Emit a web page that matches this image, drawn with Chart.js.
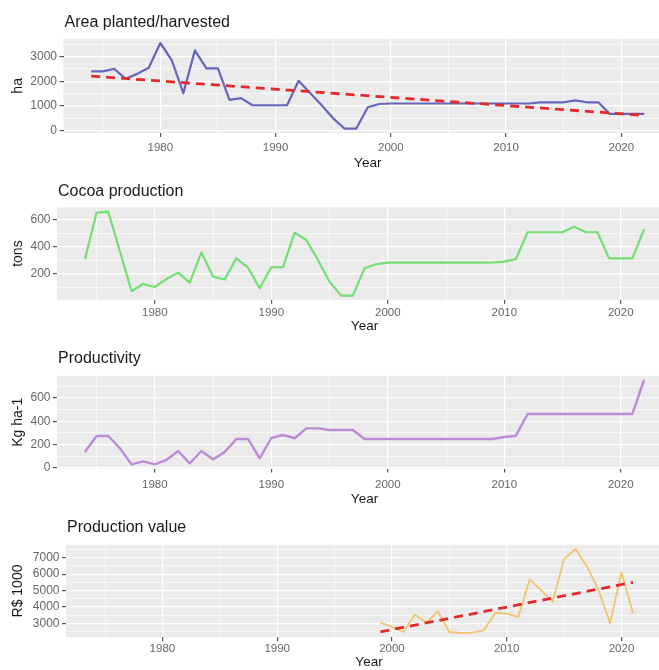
<!DOCTYPE html>
<html>
<head>
<meta charset="utf-8">
<title>Cocoa: area, production, productivity and production value</title>
<script src="https://cdn.jsdelivr.net/npm/chart.js@4.4.1/dist/chart.umd.min.js"></script>
<style>
  html, body { margin: 0; padding: 0; background: #ffffff; }
  #fig { position: relative; width: 659px; height: 670px; overflow: hidden; background: #ffffff; }
  #fig canvas { position: absolute; left: 0; }
</style>
</head>
<body>
<div id="fig">
  <canvas id="area"></canvas>
  <canvas id="production"></canvas>
  <canvas id="productivity"></canvas>
  <canvas id="value"></canvas>
</div>
<script>
// ---- data ---------------------------------------------------------------
const years = [1974, 1975, 1976, 1977, 1978, 1979, 1980, 1981, 1982, 1983,
               1984, 1985, 1986, 1987, 1988, 1989, 1990, 1991, 1992, 1993,
               1994, 1995, 1996, 1997, 1998, 1999, 2000, 2001, 2002, 2003,
               2004, 2005, 2006, 2007, 2008, 2009, 2010, 2011, 2012, 2013,
               2014, 2015, 2016, 2017, 2018, 2019, 2020, 2021, 2022];

// area planted/harvested (ha)
const areaHa = [2400, 2400, 2500, 2100, 2300, 2550, 3550, 2850, 1520, 3250,
                2520, 2520, 1250, 1320, 1030, 1030, 1030, 1030, 2020, 1530,
                1030, 500, 80, 80, 950, 1080, 1100, 1100, 1100, 1100,
                1100, 1100, 1100, 1100, 1100, 1100, 1100, 1100, 1100, 1150,
                1150, 1150, 1230, 1150, 1150, 680, 680, 680, 680];
const areaTrendYears = [1974, 2022];
const areaTrendHa = [2210, 620];

// cocoa production (tons)
const cocoaTons = [310, 654, 662, 368, 74, 126, 104, 163, 210, 136,
                   360, 180, 160, 316, 247, 94, 250, 250, 506, 452,
                   304, 143, 40, 40, 242, 272, 284, 284, 284, 284,
                   284, 284, 284, 284, 284, 285, 292, 311, 509, 509,
                   509, 509, 550, 509, 509, 316, 316, 316, 531];

// productivity (kg per ha)
const productivityKgHa = [137, 274, 274, 169, 31, 57, 31, 69, 146, 40,
                          146, 74, 137, 249, 249, 83, 257, 283, 255, 340,
                          340, 326, 326, 326, 249, 249, 249, 249, 249, 249,
                          249, 249, 249, 249, 249, 249, 266, 277, 463, 463,
                          463, 463, 463, 463, 463, 463, 463, 463, 754];

// production value (R$ 1000)
const valueYears = [1999, 2000, 2001, 2002, 2003, 2004, 2005, 2006, 2007, 2008,
                    2009, 2010, 2011, 2012, 2013, 2014, 2015, 2016, 2017, 2018,
                    2019, 2020, 2021];
const productionValue = [3050, 2780, 2470, 3530, 3040, 3730, 2470, 2410, 2430, 2570,
                         3650, 3590, 3390, 5670, 5020, 4300, 6920, 7530, 6450, 5020,
                         3020, 6100, 3630];
const valueTrendYears = [1999, 2021];
const valueTrend = [2480, 5500];

// ---- axis ticks -----------------------------------------------------------
const yearTicks = [1980, 1990, 2000, 2010, 2020];
const yearMinor = [1975, 1985, 1995, 2005, 2015];
const areaTicks = [0, 1000, 2000, 3000];
const areaMinor = [500, 1500, 2500, 3500];
const cocoaTicks = [200, 400, 600];
const cocoaMinor = [100, 300, 500];
const productivityTicks = [0, 200, 400, 600];
const productivityMinor = [100, 300, 500, 700];
const valueTicks = [3000, 4000, 5000, 6000, 7000];
const valueMinor = [2500, 3500, 4500, 5500, 6500, 7500];

// ---- styling ------------------------------------------------------------
const FONT = '"Liberation Sans", Arimo, Arial, sans-serif';
const PANEL_BG = '#EBEBEB';
const TICK_TEXT = '#666666';
const TICK_MARK = '#555555';
const CANVAS_W = 680;
const PLOT_RIGHT = 672;
const X_MIN = 1971.6, X_MAX = 2024.4;

const pts = (xs, ys) => xs.map((x, i) => ({ x: x, y: ys[i] }));

// grey panel behind the grid
const panelBackground = {
  id: 'panelBackground',
  beforeDraw(chart) {
    const { ctx, chartArea: a } = chart;
    ctx.save();
    ctx.fillStyle = PANEL_BG;
    ctx.fillRect(a.left, a.top, a.right - a.left, a.bottom - a.top);
    ctx.restore();
  }
};

// panel title, left-aligned with the plotting area
const panelTitle = {
  id: 'panelTitle',
  afterDraw(chart, args, opts) {
    const { ctx, chartArea: a } = chart;
    ctx.save();
    ctx.font = '16px ' + FONT;
    ctx.fillStyle = '#1a1a1a';
    ctx.textBaseline = 'middle';
    ctx.textAlign = 'left';
    ctx.fillText(opts.text, a.left + 1, a.top - opts.gap);
    ctx.restore();
  }
};

function gridScale(major, minor, extra) {
  const all = major.concat(minor).sort((a, b) => a - b);
  return Object.assign({
    type: 'linear',
    afterBuildTicks(scale) { scale.ticks = all.map(v => ({ value: v })); },
    ticks: {
      autoSkip: false,
      maxRotation: 0,
      color: TICK_TEXT,
      callback: v => (major.includes(v) ? String(v) : '')
    },
    grid: {
      color: '#FFFFFF',
      lineWidth: c => (c.tick && major.includes(c.tick.value) ? 1.2 : 0.6),
      tickColor: c => (c.tick && major.includes(c.tick.value) ? TICK_MARK : 'rgba(0,0,0,0)'),
      tickLength: 4,
      drawTicks: true
    },
    border: { display: false }
  }, extra);
}

function makePanel(p) {
  const canvas = document.getElementById(p.id);
  canvas.width = CANVAS_W;
  canvas.height = p.height;
  canvas.style.top = p.top + 'px';
  canvas.style.width = CANVAS_W + 'px';
  canvas.style.height = p.height + 'px';

  const xAxisHeight = p.top + p.height - p.plotBottom;

  const xScale = gridScale(yearTicks, yearMinor, {
    min: X_MIN, max: X_MAX,
    afterFit(scale) { scale.height = xAxisHeight; },
    title: { display: true, text: 'Year', color: '#1a1a1a',
             font: { family: FONT, size: 13.5 }, padding: 0 }
  });
  xScale.ticks.font = { family: FONT, size: 11.5 };
  xScale.ticks.padding = p.xLabelPad;

  const yScale = gridScale(p.yMajor, p.yMinor, {
    min: p.yMin, max: p.yMax,
    afterFit(scale) { scale.width = p.plotLeft; },
    title: { display: true, text: p.yTitle, color: '#1a1a1a',
             font: { family: FONT, size: 14 }, padding: { top: 10, bottom: 0 } }
  });
  yScale.ticks.font = { family: FONT, size: 12 };
  yScale.ticks.padding = 2.5;

  return new Chart(canvas, {
    type: 'line',
    data: { datasets: p.datasets },
    options: {
      responsive: false,
      devicePixelRatio: 1,
      animation: false,
      events: [],
      layout: { padding: { top: p.plotTop - p.top, right: CANVAS_W - PLOT_RIGHT, left: 0, bottom: 0 } },
      scales: { x: xScale, y: yScale },
      elements: { point: { radius: 0 }, line: { tension: 0, borderJoinStyle: 'round' } },
      plugins: {
        legend: { display: false },
        tooltip: { enabled: false },
        panelTitle: { text: p.title, gap: p.titleGap }
      }
    },
    plugins: [panelBackground, panelTitle]
  });
}

const trendStyle = {
  borderColor: '#E22A2A', borderWidth: 2.8, borderDash: [9, 6],
  borderCapStyle: 'butt', fill: false, order: 0
};

makePanel({
  id: 'area', top: 0, height: 171,
  plotLeft: 63.5, plotTop: 38.7, plotBottom: 133, titleGap: 16, xLabelPad: 4,
  title: 'Area planted/harvested', yTitle: 'ha',
  yMin: -93, yMax: 3723, yMajor: areaTicks, yMinor: areaMinor,
  datasets: [
    Object.assign({ label: 'trend', data: pts(areaTrendYears, areaTrendHa) }, trendStyle),
    { label: 'area', data: pts(years, areaHa), borderColor: '#6666BE', borderWidth: 2.2, fill: false, order: 1 }
  ]
});

makePanel({
  id: 'production', top: 171, height: 163,
  plotLeft: 57, plotTop: 207.4, plotBottom: 299.8, titleGap: 16, xLabelPad: 2,
  title: 'Cocoa production', yTitle: 'tons',
  yMin: 9, yMax: 693, yMajor: cocoaTicks, yMinor: cocoaMinor,
  datasets: [
    { label: 'production', data: pts(years, cocoaTons), borderColor: '#74DE74', borderWidth: 2.2, fill: false }
  ]
});

makePanel({
  id: 'productivity', top: 334, height: 173,
  plotLeft: 57, plotTop: 375.8, plotBottom: 468.6, titleGap: 17, xLabelPad: 5,
  title: 'Productivity', yTitle: 'Kg ha-1',
  yMin: -5, yMax: 790, yMajor: productivityTicks, yMinor: productivityMinor,
  datasets: [
    { label: 'productivity', data: pts(years, productivityKgHa), borderColor: '#BC8CD6', borderWidth: 2.4, fill: false }
  ]
});

makePanel({
  id: 'value', top: 507, height: 163,
  plotLeft: 66, plotTop: 544.8, plotBottom: 637.2, titleGap: 17, xLabelPad: 1,
  title: 'Production value', yTitle: 'R$ 1000',
  yMin: 2154, yMax: 7786, yMajor: valueTicks, yMinor: valueMinor,
  datasets: [
    Object.assign({ label: 'trend', data: pts(valueTrendYears, valueTrend) }, trendStyle),
    { label: 'value', data: pts(valueYears, productionValue), borderColor: '#F2C46C', borderWidth: 1.8, fill: false, order: 1 }
  ]
});
</script>
</body>
</html>
